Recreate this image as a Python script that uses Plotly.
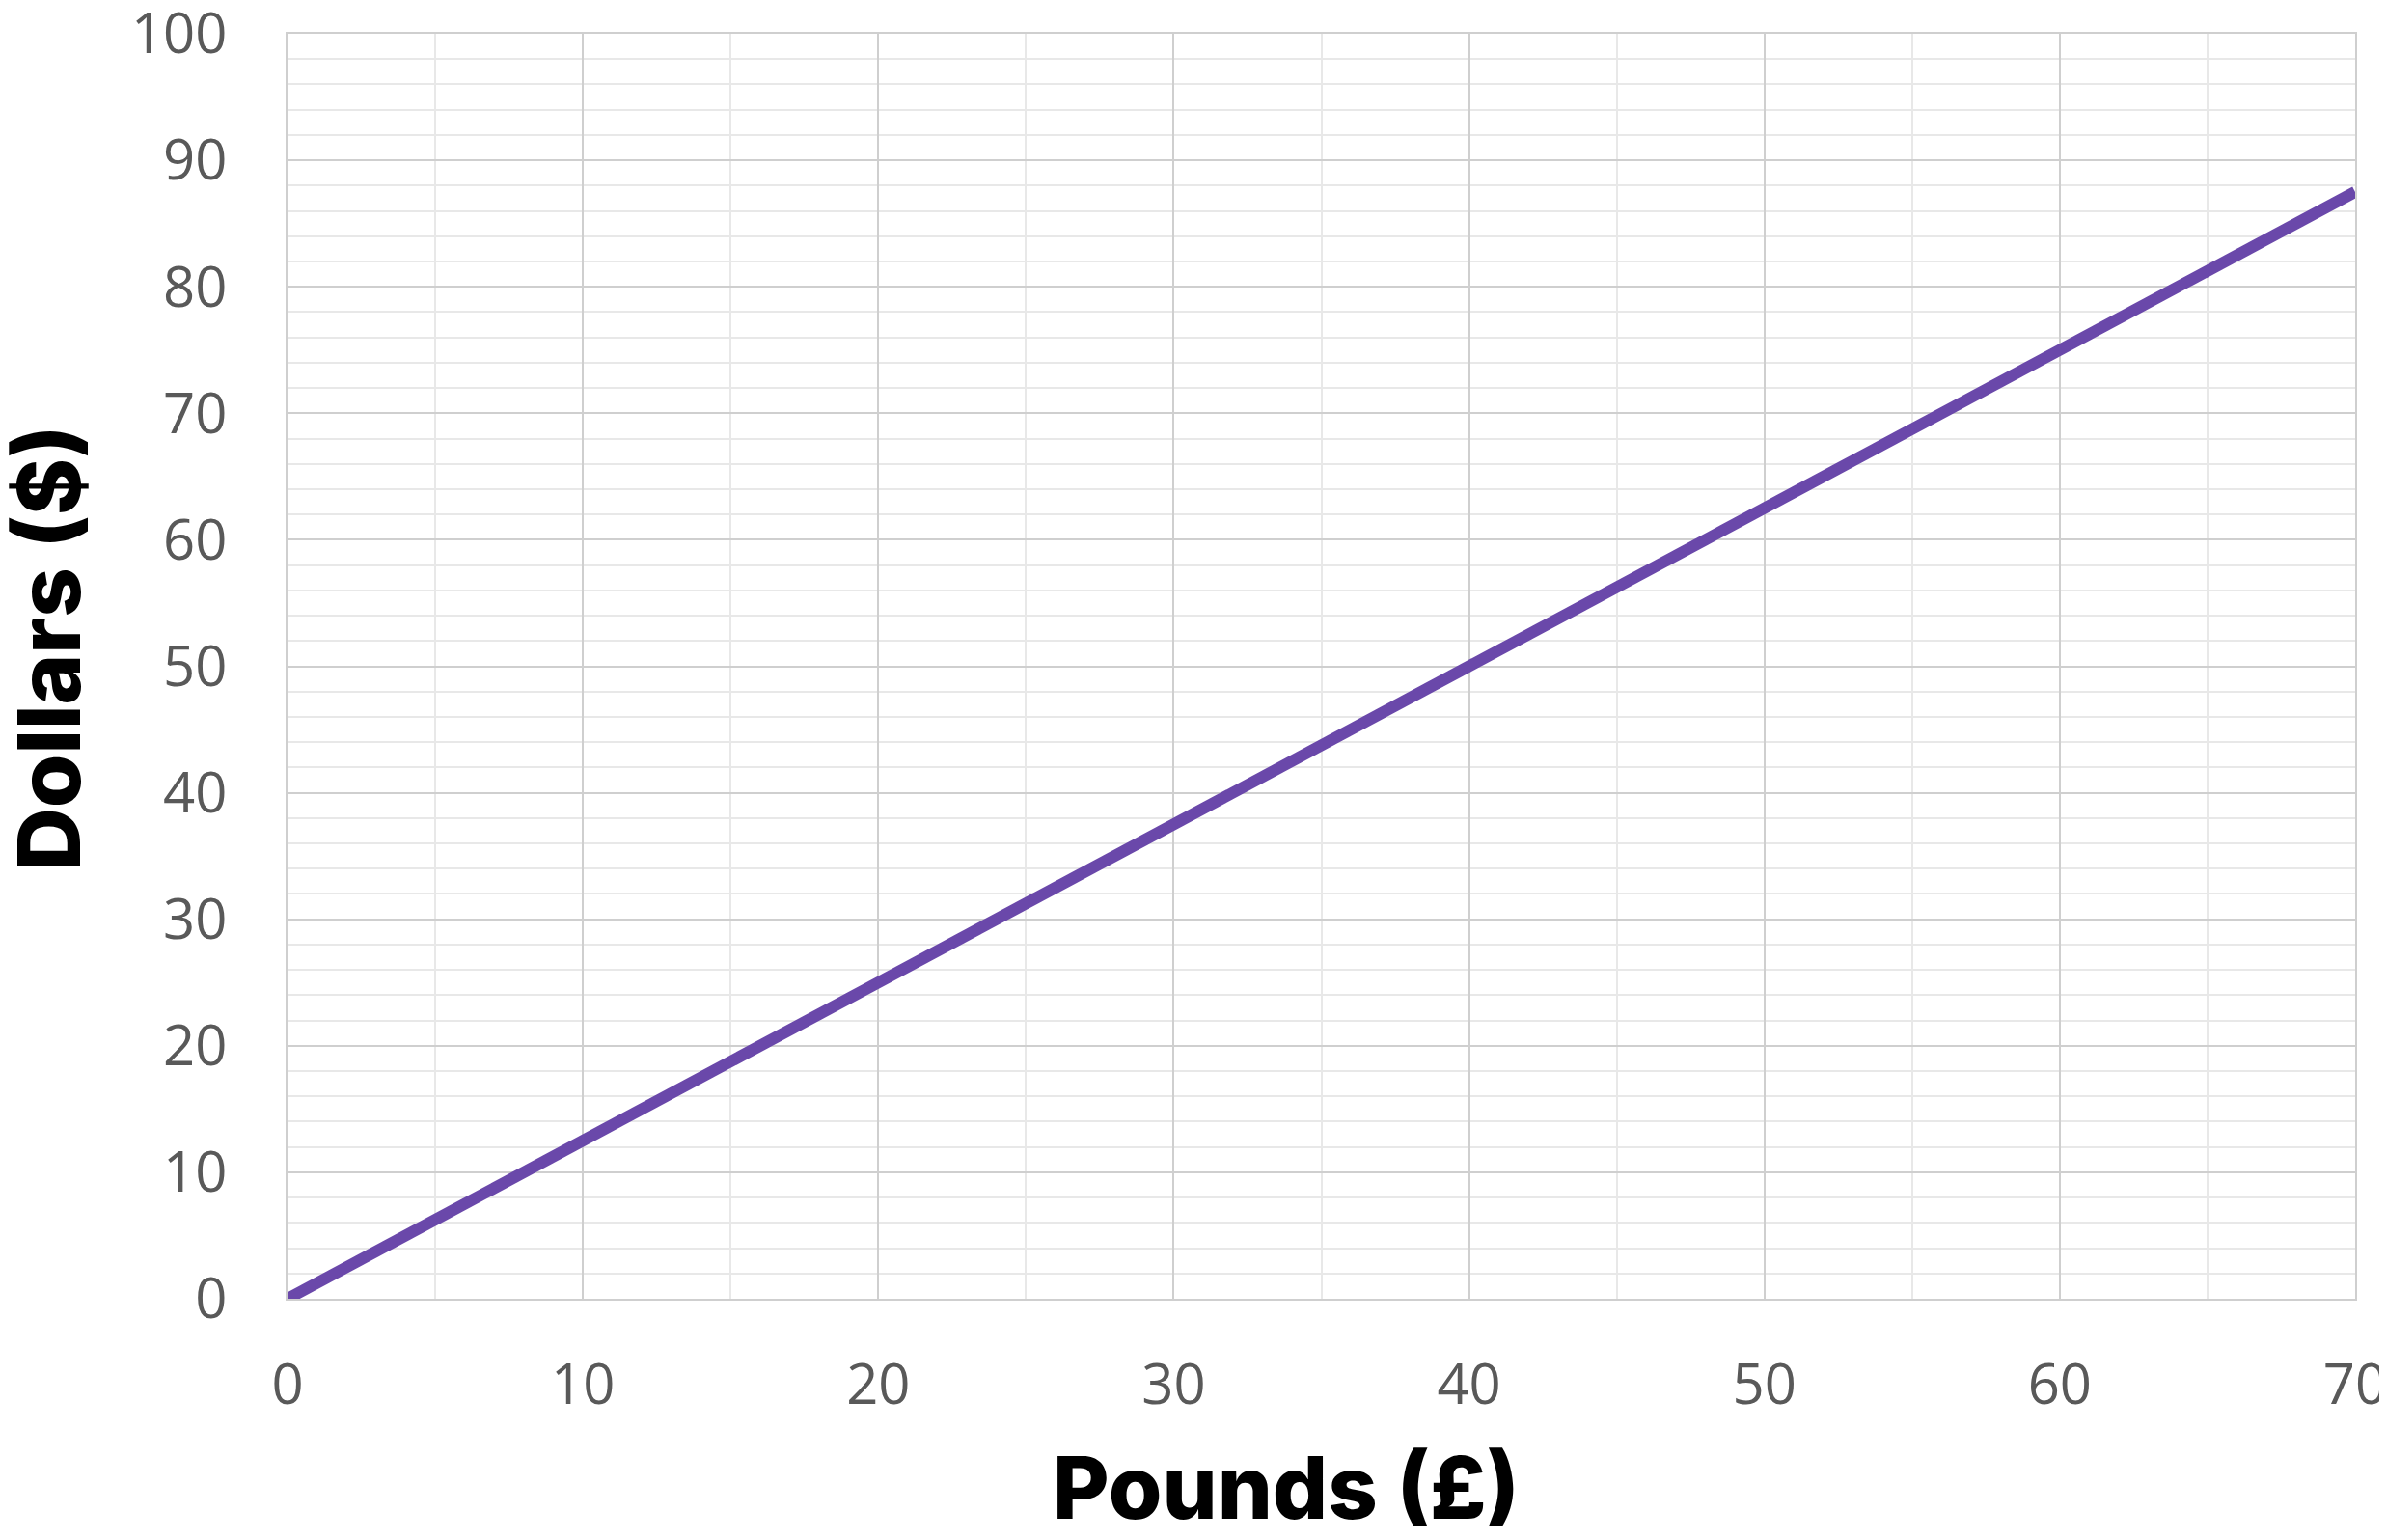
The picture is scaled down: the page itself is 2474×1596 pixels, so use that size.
import plotly.graph_objects as go

pounds = [0, 10, 20, 30, 40, 50, 60, 70]
dollars = [0, 12.5, 25, 37.5, 50, 62.5, 75, 87.5]
x_ticks = [0, 10, 20, 30, 40, 50, 60, 70]
y_ticks = [0, 10, 20, 30, 40, 50, 60, 70, 80, 90, 100]

# browser body margin is 8px; compensate so the plot sits where the reference has it
OFF = 8
W, H = 2474 - OFF, 1596 - OFF
L, R, T, B = 298 - OFF, 33, 35 - OFF, 250

fig = go.Figure()
fig.add_trace(go.Scatter(
    x=pounds, y=dollars, mode="lines",
    line=dict(color="#6a48aa", width=12),
    showlegend=False, hoverinfo="skip",
))

tickfont = dict(family="Open Sans", size=58, color="#595959")
fig.update_xaxes(
    range=[0, 70], tickvals=x_ticks, ticktext=[str(v) for v in x_ticks],
    showgrid=True, gridcolor="#cfcfcf", gridwidth=2,
    minor=dict(dtick=5, tick0=0, showgrid=True, gridcolor="#e8e8e8", gridwidth=2),
    showline=True, linecolor="#cfcfcf", linewidth=2, mirror=True,
    zeroline=False, ticks="", ticklabelstandoff=37, tickfont=tickfont,
    ticklabeloverflow="allow", automargin=False,
)
fig.update_yaxes(
    range=[0, 100], tickvals=y_ticks, ticktext=[str(v) for v in y_ticks],
    showgrid=True, gridcolor="#cfcfcf", gridwidth=2,
    minor=dict(dtick=2, tick0=0, showgrid=True, gridcolor="#e8e8e8", gridwidth=2),
    showline=True, linecolor="#cfcfcf", linewidth=2, mirror=True,
    zeroline=False, ticks="", ticklabelstandoff=49, tickfont=tickfont,
    ticklabeloverflow="allow", automargin=False,
)

titlefont = dict(family="Inter", size=90, color="#000000", weight=800)
fig.add_annotation(text="Pounds (£)", xref="paper", yref="paper",
                   x=0.483, y=-0.149, xanchor="center", yanchor="middle",
                   showarrow=False, font=titlefont)
fig.add_annotation(text="Dollars ($)", xref="paper", yref="paper",
                   x=-0.1155, y=0.515, xanchor="center", yanchor="middle",
                   textangle=-90, showarrow=False, font=titlefont)

fig.update_layout(
    width=W, height=H,
    margin=dict(l=L, r=R, t=T, b=B, pad=0),
    plot_bgcolor="white", paper_bgcolor="white",
)
fig.write_html("out.html")
